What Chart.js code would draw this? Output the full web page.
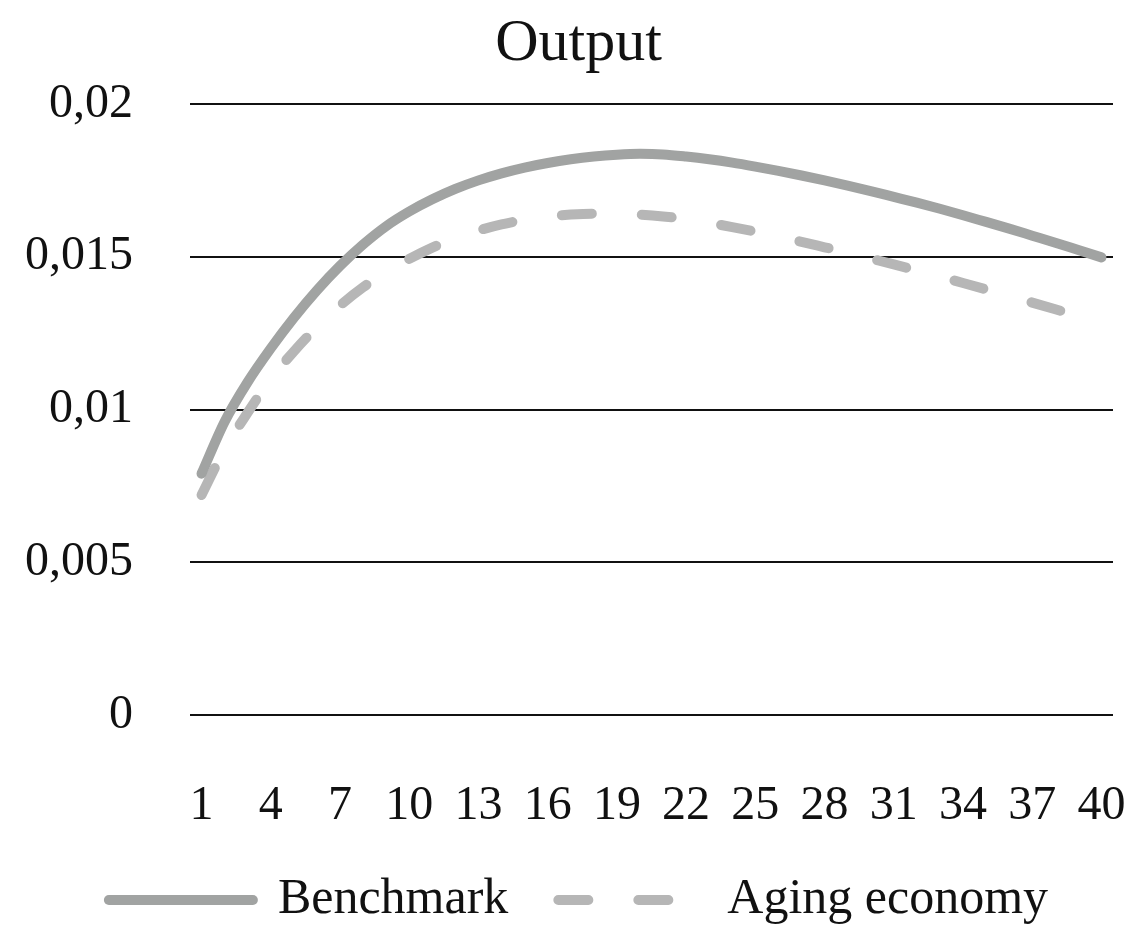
<!DOCTYPE html>
<html>
<head>
<meta charset="utf-8">
<script src="https://cdn.jsdelivr.net/npm/chart.js@4.4.0/dist/chart.umd.min.js"></script>
<style>
  html, body { margin: 0; padding: 0; background: #fff; }
  #wrap { width: 1133px; height: 929px; }
</style>
</head>
<body>
<div id="wrap"><canvas id="outputChart"></canvas></div>
<script>
// periods on the x axis (only every third one gets a label)
const periods = ['1','2','3','4','5','6','7','8','9','10','11','12','13','14','15','16','17','18','19','20',
                 '21','22','23','24','25','26','27','28','29','30','31','32','33','34','35','36','37','38','39','40']
const yTickLabels = ['0', '0,005', '0,01', '0,015', '0,02']

// values
const benchmark = [0.0079, 0.0096, 0.0109, 0.0120, 0.0130, 0.0139, 0.0147, 0.0154, 0.0160, 0.01648,
                   0.01688, 0.01722, 0.01750, 0.01773, 0.01792, 0.01807, 0.01819, 0.01828, 0.01834, 0.01837,
                   0.01835, 0.01828, 0.01819, 0.01808, 0.01795, 0.01781, 0.01766, 0.01750, 0.01733, 0.01715,
                   0.01696, 0.01677, 0.01657, 0.01636, 0.01614, 0.01592, 0.01569, 0.01546, 0.01522, 0.01498]
const aging = [0.0072, 0.0087, 0.0099, 0.0110, 0.0119, 0.0127, 0.0134, 0.0140, 0.01450, 0.01493,
               0.01530, 0.01561, 0.01586, 0.01606, 0.01621, 0.01632, 0.01638, 0.01641, 0.01641, 0.01638,
               0.01632, 0.01623, 0.01611, 0.01597, 0.01582, 0.01566, 0.01549, 0.01531, 0.01513, 0.01494,
               0.01475, 0.01455, 0.01435, 0.01414, 0.01393, 0.01372, 0.01350, 0.01328, 0.01306, 0.01284]

Chart.defaults.font.family = "'Liberation Serif', 'Times New Roman', serif"
Chart.defaults.color = '#111'

const chart = new Chart(document.getElementById('outputChart'), {
    type: 'line',
    data: {
        labels: periods,
        datasets: [{
            label: 'Benchmark',
            data: benchmark,
            borderColor: '#a1a3a2',
            borderWidth: 10,
            borderCapStyle: 'round',
            pointRadius: 0,
            cubicInterpolationMode: 'monotone',
            fill: false
        }, {
            label: 'Aging economy',
            data: aging,
            borderColor: '#b6b6b6',
            borderWidth: 10,
            borderCapStyle: 'round',
            borderDash: [30, 50],
            pointRadius: 0,
            cubicInterpolationMode: 'monotone',
            fill: false
        }]
    },
    options: {
        responsive: true,
        maintainAspectRatio: false,
        animation: false,
        devicePixelRatio: 1,
        layout: { padding: { left: 24, right: 0, top: 0, bottom: -6 } },
        plugins: {
            title: {
                display: true,
                text: 'Output',
                font: { size: 60, weight: 'normal' },
                padding: { top: 8, bottom: 24 },
                color: '#111'
            },
            legend: {
                position: 'bottom',
                labels: {
                    usePointStyle: true,
                    pointStyle: 'line',
                    pointStyleWidth: 144,
                    font: { size: 50 },
                    padding: 50,
                    color: '#111',
                    // point styles lose the dash, so put it back
                    generateLabels: c => Chart.defaults.plugins.legend.labels.generateLabels(c).map((l, i) => {
                        l.lineDash = c.data.datasets[i].borderDash || []
                        l.lineCap = 'round'
                        return l
                    })
                }
            },
            tooltip: { enabled: false }
        },
        scales: {
            x: {
                offset: true,
                grid: { display: false },
                border: { display: false },
                afterFit: s => { s.height = 110 },
                ticks: {
                    autoSkip: false,
                    maxRotation: 0,
                    minRotation: 0,
                    padding: 0,
                    font: { size: 48, lineHeight: 3.47 },
                    color: '#111',
                    callback: (v, i) => (i % 3 === 0 ? periods[i] : '')
                }
            },
            y: {
                min: 0,
                max: 0.02,
                afterFit: s => { s.width = 166 },
                grid: { color: '#111', lineWidth: 2, drawTicks: false },
                border: { display: false },
                ticks: {
                    stepSize: 0.005,
                    padding: 57,
                    font: { size: 48 },
                    color: '#111',
                    callback: (v, i) => yTickLabels[i]
                }
            },
            // empty strip on the right so the plot stops short of the edge
            yRight: {
                position: 'right',
                grid: { display: false },
                border: { display: false },
                ticks: { display: false },
                afterFit: s => { s.width = 20 }
            }
        }
    }
})
</script>
</body>
</html>
